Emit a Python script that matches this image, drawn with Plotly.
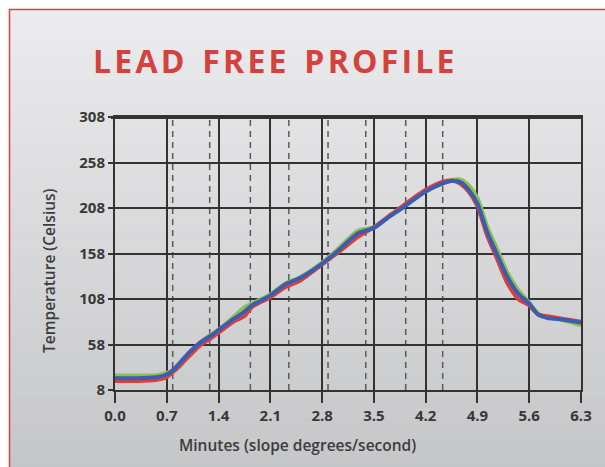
import plotly.graph_objects as go

# ---- data ----
x_ticks = [0.0, 0.7, 1.4, 2.1, 2.8, 3.5, 4.2, 4.9, 5.6, 6.3]
y_ticks = [8, 58, 108, 158, 208, 258, 308]
dashed_x = [0.78, 1.28, 1.83, 2.35, 2.88, 3.39, 3.93, 4.43]

blue_x = [0, 0.3, 0.55, 0.7, 0.8, 0.9, 1.0, 1.15, 1.3, 1.4, 1.6, 1.75, 1.85, 2.1, 2.3, 2.5, 2.8, 3.0, 3.28, 3.5,
          3.7, 3.85, 4.2, 4.43, 4.57, 4.68, 4.78, 4.9, 5.03, 5.16, 5.3, 5.45, 5.6, 5.72, 5.85, 6.0, 6.3]
blue_y = [21, 21, 22, 25, 31, 40, 49, 60, 68, 74, 86, 94, 101, 112, 124, 131, 147, 160, 180, 186,
          198, 206, 226, 235, 238, 236, 228, 213, 182, 158, 133, 114, 103, 91, 87, 86, 82]

green_x = blue_x
green_y = [24, 24, 24, 27, 29, 36, 47, 60, 69, 74, 88, 99, 103, 113, 125, 132, 148, 162, 183, 187,
           198, 207, 226, 235, 239, 239, 233, 219, 188, 164, 138, 118, 104, 92, 88, 86, 79]

red_x = blue_x
red_y = [18, 18, 19, 22, 29, 37, 45, 57, 65, 71, 83, 89, 99, 110, 121, 128, 146, 158, 176, 187,
         199, 208, 228, 237, 238, 234, 226, 210, 178, 153, 126, 108, 101, 91, 89, 87, 83]

x_title = "Minutes (slope degrees/second)"
y_title = "Temperature (Celsius)"
chart_title = "LEAD FREE PROFILE"

W, H = 605, 467
L, R, T, B = 115, 581, 117, 390

def px(xw):  # window pixel x -> paper
    return (xw - L) / (R - L)
def py(yw):  # window pixel y -> paper
    return (B - yw) / (B - T)

fig = go.Figure()

for xs, ys, col in [(green_x, green_y, "#8dc04c"), (red_x, red_y, "#d8403b"), (blue_x, blue_y, "#3c5cb4")]:
    fig.add_trace(go.Scatter(x=xs, y=ys, mode="lines",
                             line=dict(color=col, width=4, shape="spline", smoothing=0.6),
                             showlegend=False, hoverinfo="skip"))

shapes = []
# gradient background bands inside the card
n = 60
top_c = (236, 236, 238)
bot_c = (197, 198, 200)
y0w, y1w = 9, 470
for i in range(n):
    a = y0w + (y1w - y0w) * i / n
    b = y0w + (y1w - y0w) * (i + 1) / n + 0.6
    t = (i + 0.5) / n
    c = tuple(round(top_c[k] + (bot_c[k] - top_c[k]) * t) for k in range(3))
    shapes.append(dict(type="rect", xref="paper", yref="paper", layer="below",
                       x0=px(9), x1=px(610), y0=py(b), y1=py(a),
                       fillcolor="rgb(%d,%d,%d)" % c, line=dict(width=0)))
# card red border
shapes.append(dict(type="line", xref="paper", yref="paper", x0=px(9), x1=px(610), y0=py(9.5), y1=py(9.5),
                   line=dict(color="#d9423e", width=1.5), layer="below"))
shapes.append(dict(type="line", xref="paper", yref="paper", x0=px(9.5), x1=px(9.5), y0=py(9), y1=py(470),
                   line=dict(color="#d9423e", width=1.5), layer="below"))
# dashed verticals
for dx in dashed_x:
    shapes.append(dict(type="line", xref="x", yref="y", x0=dx, x1=dx, y0=8, y1=308,
                       line=dict(color="#5a5a5a", width=1.5, dash="6px,5px"), layer="below"))
# thick top border
shapes.append(dict(type="line", xref="paper", yref="y", x0=px(111), x1=px(583), y0=308, y1=308,
                   line=dict(color="#333333", width=4)))

tick_font = dict(family="Open Sans, Noto Sans, sans-serif", size=15, color="#383838", weight="bold")
label_font = dict(family="Open Sans, Noto Sans, sans-serif", size=15.5, color="#3c3c3c", weight=600)

HAIR = "\u200a"
title_text = (HAIR + " " + HAIR + HAIR).join(HAIR.join(w) for w in chart_title.split(" "))

fig.update_layout(
    width=W, height=H,
    margin=dict(l=L, r=W - R, t=T, b=H - B),
    paper_bgcolor="white",
    plot_bgcolor="rgba(0,0,0,0)",
    shapes=shapes,
    xaxis=dict(range=[0, 6.3], tickvals=x_ticks, ticktext=["%.1f" % v for v in x_ticks],
               showgrid=True, gridcolor="#333333", gridwidth=2,
               showline=True, linecolor="#333333", linewidth=2, mirror=True,
               ticks="outside", ticklen=11, tickwidth=2, tickcolor="#333333",
               tickfont=tick_font, zeroline=False, fixedrange=True),
    yaxis=dict(range=[8, 308], tickvals=y_ticks, ticktext=[str(v) for v in y_ticks],
               showgrid=True, gridcolor="#333333", gridwidth=2,
               showline=True, linecolor="#333333", linewidth=2, mirror=True,
               ticks="outside", ticklen=5, tickwidth=2, tickcolor="#333333",
               tickfont=tick_font, zeroline=False, fixedrange=True),
    annotations=[
        dict(text=title_text, xref="paper", yref="paper", x=px(273.5), y=py(60),
             showarrow=False, xanchor="center", yanchor="middle",
             font=dict(family="Open Sans, Noto Sans, sans-serif", size=32, color="#d4423d", weight="bold")),
        dict(text=x_title, xref="paper", yref="paper", x=px(297), y=py(445),
             showarrow=False, xanchor="center", yanchor="middle", font=label_font),
        dict(text=y_title, xref="paper", yref="paper", x=px(49), y=py(271), textangle=-90,
             showarrow=False, xanchor="center", yanchor="middle", font=label_font),
    ],
)

fig.write_html("out.html", config={"displayModeBar": False, "staticPlot": True},
               post_script="document.body.style.margin='0';document.body.style.overflow='hidden';")
